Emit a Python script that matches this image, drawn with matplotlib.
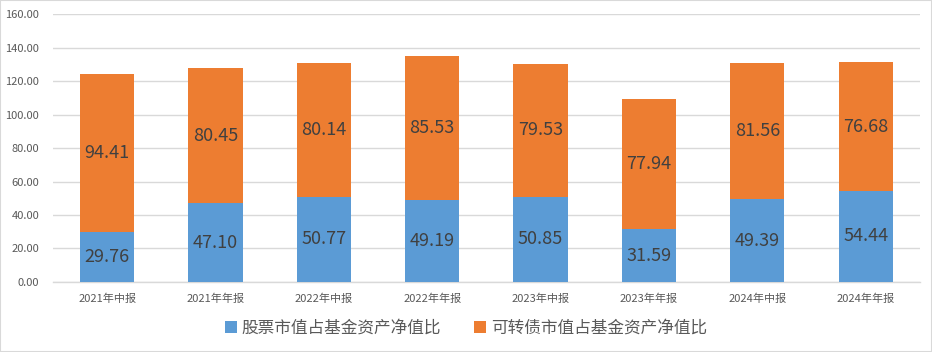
import matplotlib
matplotlib.use("Agg")
import matplotlib.pyplot as plt
import numpy as np

plt.rcParams['font.family'] = ['Noto Sans CJK SC', 'DejaVu Sans']

categories = ["2021年中报", "2021年年报", "2022年中报", "2022年年报",
              "2023年中报", "2023年年报", "2024年中报", "2024年年报"]
stock = [29.76, 47.10, 50.77, 49.19, 50.85, 31.59, 49.39, 54.44]
convertible = [94.41, 80.45, 80.14, 85.53, 79.53, 77.94, 81.56, 76.68]
series_names = ["股票市值占基金资产净值比", "可转债市值占基金资产净值比"]

blue = "#5B9BD5"
orange = "#ED7D31"
textc = "#404040"

fig = plt.figure(figsize=(9.32, 3.52), dpi=100)
fig.patches.append(plt.Rectangle((0, 0), 1, 1, transform=fig.transFigure,
                                 fill=False, edgecolor="#D9D9D9", linewidth=1.5))
ax = fig.add_axes([0.0569, 0.199, 0.930, 0.761])
x = np.arange(len(categories))
b1 = ax.bar(x, stock, width=0.5, color=blue, label=series_names[0], zorder=3)
b2 = ax.bar(x, convertible, width=0.5, bottom=stock, color=orange, label=series_names[1], zorder=3)

for i in range(len(categories)):
    ax.text(x[i], stock[i] / 2, f"{stock[i]:.2f}", ha="center", va="center",
            fontsize=13, color=textc, zorder=4)
    ax.text(x[i], stock[i] + convertible[i] / 2, f"{convertible[i]:.2f}", ha="center",
            va="center", fontsize=13, color=textc, zorder=4)

ax.set_ylim(0, 160)
ax.set_xlim(-0.5, len(categories) - 0.5)
ax.set_yticks(np.arange(0, 161, 20))
ax.set_yticklabels([f"{v:.2f}" for v in np.arange(0, 161, 20)])
ax.set_xticks(x)
ax.set_xticklabels(categories)
ax.tick_params(axis="both", length=0, labelsize=8, colors="#595959")
ax.tick_params(axis="x", pad=8)
ax.tick_params(axis="y", pad=10)
ax.grid(axis="y", color="#D9D9D9", linewidth=1, zorder=0)
for s in ["top", "right", "left"]:
    ax.spines[s].set_visible(False)
ax.spines["bottom"].set_color("#D9D9D9")
ax.spines["bottom"].set_linewidth(1)

fig.legend(handles=[b1, b2], loc="center", bbox_to_anchor=(0.5, 0.068), ncol=2,
           frameon=False, fontsize=12, handlelength=0.7, handleheight=0.7,
           handletextpad=0.3, columnspacing=2.0, labelcolor="#595959")

fig.savefig("out.png", dpi=100)
